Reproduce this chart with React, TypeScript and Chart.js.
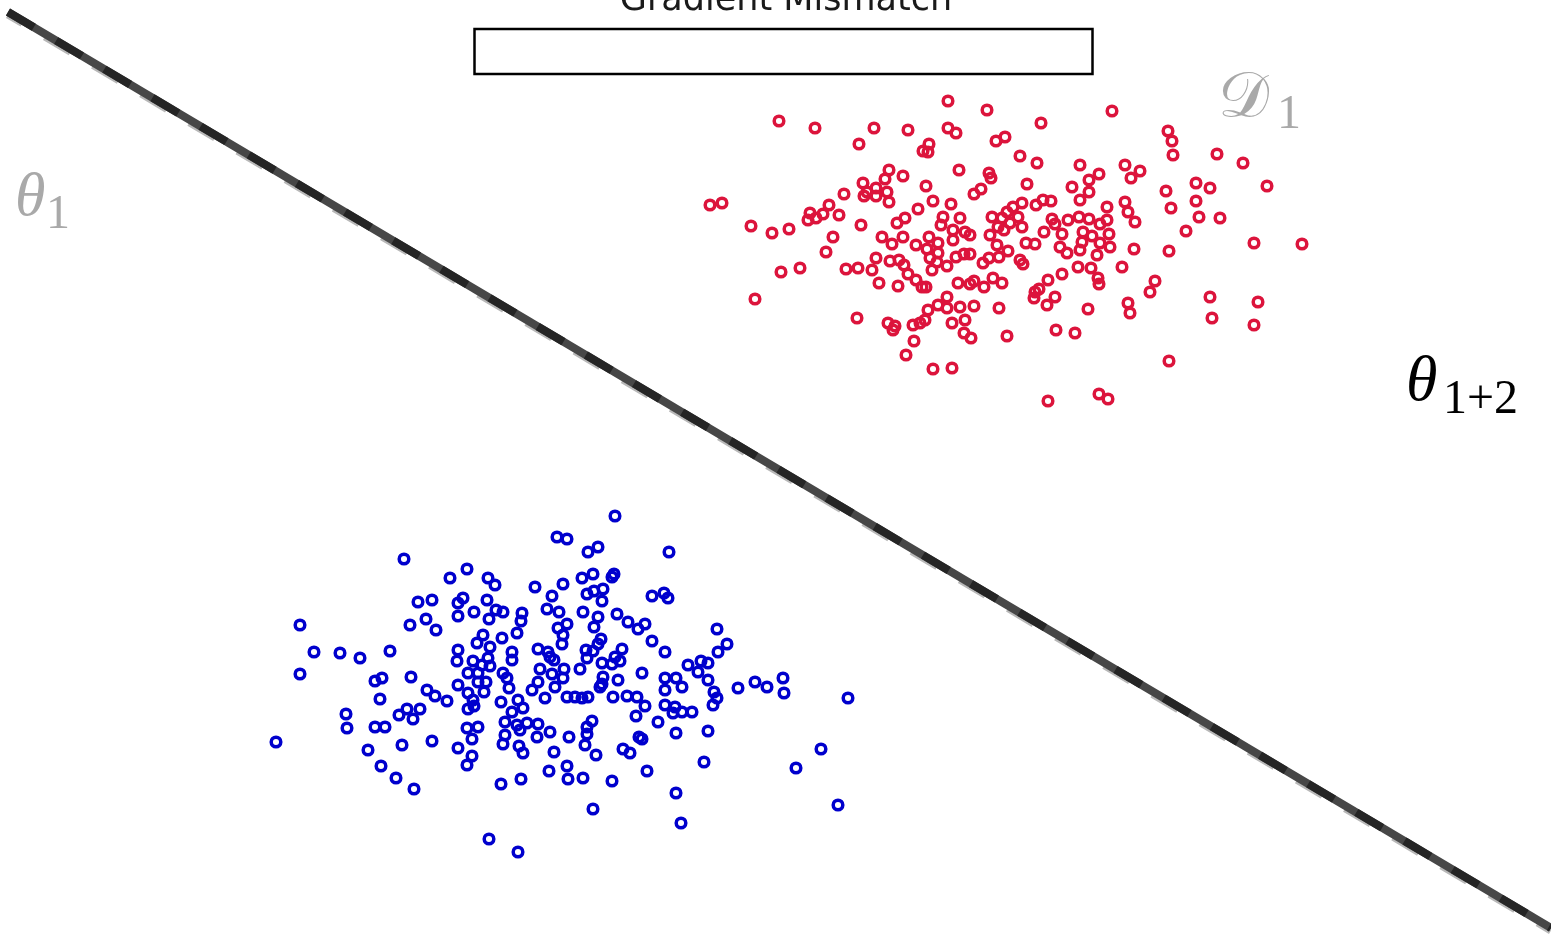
import React, { useEffect, useRef } from "react";
import { Chart, registerables } from "chart.js";

Chart.register(...registerables);

// Domain 1 samples (red) as [x, y] in plot units (x: 0..1551, y: 0..936 downward)
const redPoints: [number, number][] = [
  [948, 101], [987, 110], [779, 121], [815, 128], [874, 128], [908, 130], [948, 128], [956, 133],
  [859, 144], [929, 144], [923, 151], [928, 152], [996, 141], [1005, 137], [889, 170], [903, 176],
  [959, 170], [926, 186], [989, 173], [991, 178], [974, 194], [981, 189], [710, 205], [722, 203],
  [863, 183], [885, 179], [867, 192], [876, 188], [887, 192], [864, 196], [876, 196], [889, 202],
  [844, 194], [829, 205], [810, 213], [823, 214], [816, 218], [808, 220], [839, 215], [933, 201],
  [918, 209], [951, 204], [897, 223], [905, 218], [943, 217], [960, 218], [941, 225], [751, 226],
  [772, 233], [789, 229], [861, 225], [833, 237], [882, 237], [903, 237], [892, 244], [916, 245],
  [929, 237], [938, 243], [953, 230], [965, 232], [970, 235], [953, 240], [992, 217], [1002, 218],
  [998, 227], [990, 235], [1004, 230], [997, 245], [826, 252],
  [1112, 111], [1041, 123], [1168, 131], [1172, 141], [1173, 155], [1217, 154], [1243, 163],
  [1020, 156], [1037, 163], [1080, 165], [1125, 165], [1140, 171], [1131, 178], [1099, 174],
  [1089, 180], [1027, 184], [1072, 187], [1089, 192], [1080, 200], [1166, 191], [1196, 183],
  [1210, 188], [1267, 186], [1171, 208], [1196, 201], [1199, 217], [1220, 218], [1036, 205],
  [1043, 200], [1051, 201], [1022, 203], [1013, 207], [1007, 212], [1018, 217], [1010, 223],
  [1022, 227], [1107, 207], [1125, 202], [1128, 212], [1135, 222], [1052, 219], [1055, 224],
  [1068, 220], [1079, 217], [1089, 219], [1100, 224], [1107, 220], [1044, 232], [1062, 234],
  [1083, 232], [1092, 236], [1109, 234], [1082, 242], [1100, 243], [1026, 243], [1035, 244],
  [1186, 231], [1254, 243], [1302, 244], [1134, 249], [1169, 251], [1060, 247], [1110, 247],
  [781, 272], [800, 268], [755, 299], [846, 269], [858, 268], [872, 270], [876, 258], [890, 261],
  [899, 260], [904, 265], [927, 249], [938, 253], [930, 258], [937, 262], [932, 270], [947, 266],
  [956, 257], [964, 254], [970, 254], [983, 263], [989, 258], [999, 257], [879, 283], [898, 286],
  [908, 274], [916, 280], [922, 287], [926, 287], [958, 283], [970, 284], [974, 281], [984, 287],
  [993, 278], [1002, 283], [947, 297], [938, 305], [928, 310], [947, 308], [960, 307], [974, 306],
  [999, 308], [857, 318], [888, 323], [895, 326], [893, 330], [913, 325], [920, 323], [925, 320],
  [952, 323], [965, 320], [964, 333], [971, 338], [1007, 336], [914, 341], [906, 355], [933, 369],
  [952, 368],
  [1008, 251], [1020, 260], [1023, 264], [1067, 253], [1080, 250], [1097, 255], [1078, 267],
  [1091, 268], [1062, 274], [1048, 280], [1098, 278], [1099, 284], [1122, 267], [1155, 281],
  [1150, 292], [1035, 292], [1039, 289], [1034, 298], [1055, 297], [1047, 305], [1088, 309],
  [1128, 303], [1130, 313], [1210, 297], [1258, 302], [1212, 318], [1254, 325], [1056, 330],
  [1075, 333], [1169, 361], [1048, 401], [1099, 394], [1108, 399],
];

// Domain 2 samples (blue)
const bluePoints: [number, number][] = [
  [557, 537], [567, 539], [404, 559], [450, 578], [467, 569], [488, 578], [495, 585], [535, 587],
  [563, 584], [552, 596], [418, 602], [432, 600], [458, 603], [463, 598], [487, 600], [474, 612],
  [496, 610], [503, 612], [522, 613], [547, 609], [559, 612], [458, 616], [489, 619], [521, 621],
  [300, 625], [410, 625], [426, 619], [436, 630], [483, 635], [502, 638], [517, 633], [477, 643],
  [490, 647], [558, 628], [567, 624], [563, 635], [562, 644], [458, 650], [512, 652], [538, 649],
  [548, 652], [314, 652], [340, 653], [360, 658], [390, 651], [457, 661], [473, 661], [488, 658],
  [512, 660], [550, 657], [554, 660], [482, 665], [490, 666], [300, 674], [375, 681], [382, 678],
  [411, 677], [468, 673], [478, 673], [503, 673], [507, 678], [540, 669], [564, 669], [552, 674],
  [563, 678], [458, 685], [427, 690], [478, 682], [486, 682], [538, 682], [555, 687],
  [615, 516], [588, 552], [598, 547], [669, 552], [582, 578], [593, 574], [612, 577], [614, 574],
  [587, 594], [594, 591], [603, 589], [602, 601], [652, 596], [664, 593], [668, 598], [583, 612],
  [598, 617], [617, 614], [594, 627], [628, 622], [638, 629], [645, 624], [601, 639], [652, 641],
  [717, 629], [727, 644], [718, 652], [586, 650], [593, 651], [598, 644], [622, 649], [587, 658],
  [665, 652], [602, 663], [612, 664], [620, 661], [615, 657], [580, 669], [642, 673], [688, 665],
  [701, 661], [698, 672], [708, 663], [603, 677], [618, 680], [665, 678], [676, 678], [708, 680],
  [755, 682], [767, 687], [783, 678], [738, 688], [602, 684], [682, 687],
  [380, 699], [435, 696], [447, 701], [468, 693], [473, 700], [468, 709], [474, 706], [484, 692],
  [509, 688], [501, 702], [518, 700], [523, 708], [512, 712], [505, 722], [517, 725], [520, 730],
  [527, 723], [538, 724], [537, 737], [550, 732], [532, 690], [545, 698], [567, 697], [346, 714],
  [347, 728], [375, 727], [385, 727], [399, 715], [407, 709], [413, 719], [420, 709], [276, 742],
  [368, 750], [402, 745], [432, 741], [458, 748], [467, 728], [478, 727], [472, 739], [472, 756],
  [467, 765], [505, 735], [503, 744], [519, 746], [523, 753], [554, 752], [381, 766], [396, 778],
  [414, 789], [501, 784], [521, 779], [549, 771], [489, 839], [518, 852],
  [575, 697], [582, 698], [588, 697], [600, 687], [613, 697], [627, 696], [637, 697], [645, 706],
  [636, 716], [665, 690], [665, 705], [675, 707], [673, 713], [682, 712], [692, 712], [714, 692],
  [717, 698], [713, 705], [784, 693], [848, 698], [592, 721], [587, 727], [587, 734], [585, 745],
  [596, 755], [569, 737], [658, 722], [639, 737], [642, 739], [676, 733], [708, 731], [623, 749],
  [630, 753], [567, 766], [568, 779], [583, 778], [612, 781], [647, 771], [704, 762], [821, 749],
  [796, 768], [676, 793], [593, 809], [681, 823], [838, 805],
];

// Decision boundary endpoints
const boundaryX = [8, 1551];
const boundaryY = [12, 928];

const titleText = "Gradient Mismatch";
const thetaOneLabel = ["θ", "1"];
const thetaJointLabel = ["θ", "1+2"];
const domainLabel = ["𝒟", "1"];

export default function App() {
  const ref = useRef<HTMLCanvasElement>(null);

  useEffect(() => {
    document.body.style.margin = "0";
    const canvas = ref.current;
    if (!canvas) return;

    const toXY = (p: [number, number]) => ({ x: p[0], y: p[1] });
    const linePts = boundaryX.map((x, i) => ({ x, y: boundaryY[i] }));

    const labelsPlugin = {
      id: "labelsPlugin",
      afterDraw(chart: any) {
        const ctx: CanvasRenderingContext2D = chart.ctx;
        ctx.save();
        ctx.textBaseline = "alphabetic";
        ctx.textAlign = "center";
        ctx.fillStyle = "#1a1a1a";
        ctx.font = "35px 'DejaVu Sans'";
        ctx.fillText(titleText, 786, 10);
        ctx.lineWidth = 2.5;
        ctx.strokeStyle = "#000";
        ctx.strokeRect(474.5, 29, 618, 45);

        ctx.textAlign = "left";
        // theta_1
        ctx.fillStyle = "#a9a9a9";
        ctx.font = "italic 62px 'Liberation Serif'";
        ctx.fillText(thetaOneLabel[0], 15, 215);
        ctx.font = "48px 'Liberation Serif'";
        ctx.fillText(thetaOneLabel[1], 46, 228);

        // D_1
        ctx.font = "64px 'DejaVu Serif'";
        ctx.fillText(domainLabel[0], 1218, 117);
        ctx.font = "48px 'Liberation Serif'";
        ctx.fillText(domainLabel[1], 1277, 128);

        // theta_{1+2}
        ctx.fillStyle = "#000";
        ctx.font = "italic 64px 'Liberation Serif'";
        ctx.fillText(thetaJointLabel[0], 1406, 400);
        ctx.font = "48px 'Liberation Serif'";
        ctx.fillText(thetaJointLabel[1], 1443, 413);
        ctx.restore();
      },
    };

    const chart = new Chart(canvas, {
      type: "scatter",
      data: {
        datasets: [
          {
            label: "boundary-dash",
            type: "line",
            data: linePts,
            borderColor: "#252525",
            borderWidth: 8,
            borderDash: [30, 26],
            pointRadius: 0,
            fill: false,
            order: 1,
          } as any,
          {
            label: "boundary",
            type: "line",
            data: linePts,
            borderColor: "#474747",
            borderWidth: 8,
            pointRadius: 0,
            fill: false,
            order: 2,
          } as any,
          {
            label: "theta1",
            type: "line",
            data: linePts.map((p) => ({ x: p.x, y: p.y + 2.5 })),
            borderColor: "#b8b8b8",
            borderWidth: 8,
            borderDash: [30, 26],
            borderDashOffset: 13,
            pointRadius: 0,
            fill: false,
            order: 3,
          } as any,
          {
            label: "D1",
            data: redPoints.map(toXY),
            borderColor: "#dc143c",
            backgroundColor: "rgba(255,255,255,0)",
            borderWidth: 3.5,
            pointRadius: 4.8,
            order: 4,
          },
          {
            label: "D2",
            data: bluePoints.map(toXY),
            borderColor: "#0000cd",
            backgroundColor: "rgba(255,255,255,0)",
            borderWidth: 3.5,
            pointRadius: 4.8,
            order: 5,
          },
        ],
      },
      options: {
        animation: false,
        responsive: false,
        maintainAspectRatio: false,
        devicePixelRatio: 1,
        layout: { padding: 0, autoPadding: false },
        events: [],
        scales: {
          x: { type: "linear", min: 0, max: 1551, display: false },
          y: { type: "linear", min: 0, max: 936, reverse: true, display: false },
        },
        plugins: {
          legend: { display: false },
          tooltip: { enabled: false },
          title: { display: false },
        },
      },
      plugins: [labelsPlugin],
    });

    return () => chart.destroy();
  }, []);

  return (
    <div style={{ position: "fixed", left: 0, top: 0, width: 1551, height: 936, background: "#ffffff" }}>
      <canvas ref={ref} width={1551} height={936} style={{ display: "block" }} />
    </div>
  );
}
